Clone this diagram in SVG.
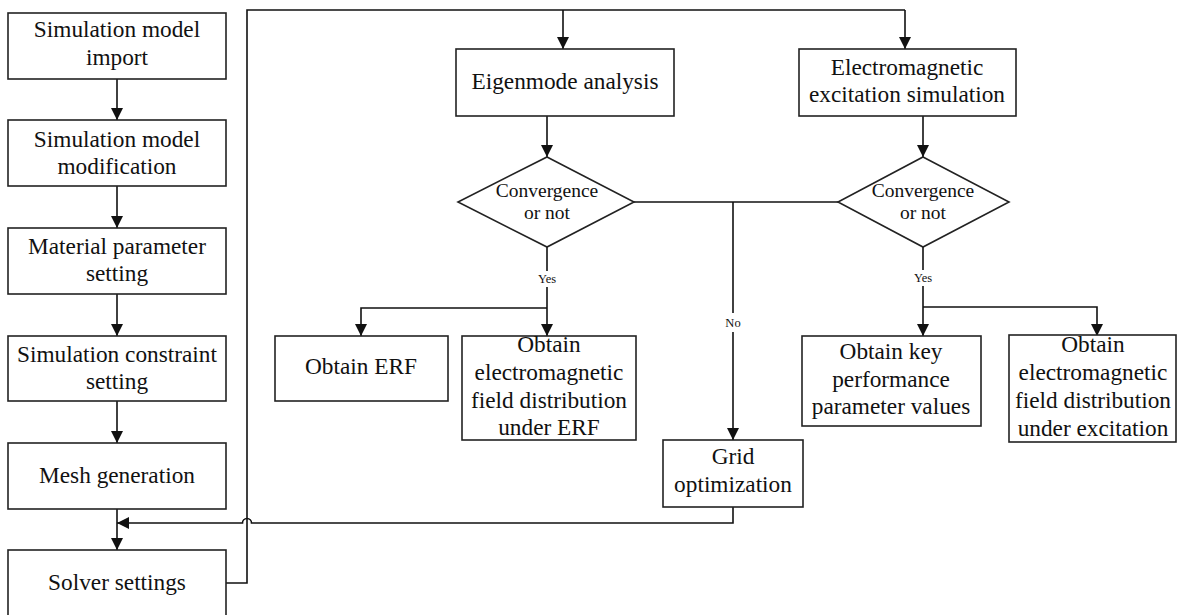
<svg xmlns="http://www.w3.org/2000/svg" width="1178" height="615" viewBox="0 0 1178 615">
<style>
.box{fill:#fff;stroke:#222;stroke-width:1.6}
.t{font-family:'Liberation Serif','Times New Roman',Tinos,'DejaVu Serif',serif;font-size:23.3px;fill:#111;text-anchor:middle}
.d{font-family:'Liberation Serif','Times New Roman',Tinos,'DejaVu Serif',serif;font-size:19.5px;fill:#111;text-anchor:middle}
.s{font-family:'Liberation Serif','Times New Roman',Tinos,'DejaVu Serif',serif;font-size:12.5px;fill:#111;text-anchor:middle}
.c{fill:none;stroke:#111;stroke-width:1.6}
.a{marker-end:url(#ah)}
</style>
<defs>
<marker id="ah" markerUnits="userSpaceOnUse" markerWidth="13" markerHeight="13" refX="12" refY="6" orient="auto">
<path d="M0,0 L12,6 L0,12 z" fill="#111"/>
</marker>
</defs>
<rect width="1178" height="615" fill="#fff"/>
<g id="connectors">
<path class="c a" d="M117,79 V120"/>
<path class="c a" d="M117,186 V228"/>
<path class="c a" d="M117,294 V336"/>
<path class="c a" d="M117,401 V443"/>
<path class="c a" d="M117,509 V550"/>
<path class="c" d="M226,583 H247 V10 H905"/>
<path class="c a" d="M905,10 V49"/>
<path class="c a" d="M563,10 V49"/>
<path class="c a" d="M547,116 V157"/>
<path class="c a" d="M923,116 V157"/>
<path class="c" d="M547,247 V271"/>
<path class="c a" d="M547,287 V336"/>
<path class="c a" d="M547,308 H361 V336"/>
<path class="c" d="M634,202 H838"/>
<path class="c" d="M733,202 V313"/>
<path class="c a" d="M733,332 V440"/>
<path class="c" d="M923,247 V270"/>
<path class="c a" d="M923,286 V336"/>
<path class="c a" d="M923,307 H1097 V336"/>
<path class="c a" d="M733,507 V523 H251.5 A4.5,4.5 0 0 0 242.5,523 H117"/>
<text class="s" x="547" y="283">Yes</text>
<text class="s" x="923" y="282">Yes</text>
<text class="s" x="733" y="327">No</text>
</g>
<g id="n1"><rect class="box" x="8" y="13" width="218" height="66"/><text class="t" x="117" y="37">Simulation model</text><text class="t" x="117" y="65">import</text></g>
<g id="n2"><rect class="box" x="8" y="120" width="218" height="66"/><text class="t" x="117" y="147">Simulation model</text><text class="t" x="117" y="174">modification</text></g>
<g id="n3"><rect class="box" x="8" y="228" width="218" height="66"/><text class="t" x="117" y="254">Material parameter</text><text class="t" x="117" y="281">setting</text></g>
<g id="n4"><rect class="box" x="8" y="336" width="218" height="65"/><text class="t" x="117" y="362">Simulation constraint</text><text class="t" x="117" y="389">setting</text></g>
<g id="n5"><rect class="box" x="8" y="443" width="218" height="66"/><text class="t" x="117" y="483">Mesh generation</text></g>
<g id="n6"><rect class="box" x="8" y="550" width="218" height="70"/><text class="t" x="117" y="590">Solver settings</text></g>
<g id="n7"><rect class="box" x="456" y="49" width="218" height="67"/><text class="t" x="565" y="89">Eigenmode analysis</text></g>
<g id="n8"><rect class="box" x="799" y="49" width="217" height="67"/><text class="t" x="907" y="75">Electromagnetic</text><text class="t" x="907" y="102">excitation simulation</text></g>
<g id="n9"><polygon class="box" points="547,157 634,202 547,247 458,202"/><text class="d" x="547" y="197">Convergence</text><text class="d" x="547" y="219">or not</text></g>
<g id="n10"><polygon class="box" points="923,157 1009,202 923,247 838,202"/><text class="d" x="923" y="197">Convergence</text><text class="d" x="923" y="219">or not</text></g>
<g id="n11"><rect class="box" x="275" y="336" width="173" height="65"/><text class="t" x="361" y="374">Obtain ERF</text></g>
<g id="n12"><rect class="box" x="462" y="336" width="174" height="104"/><text class="t" x="549" y="352">Obtain</text><text class="t" x="549" y="380">electromagnetic</text><text class="t" x="549" y="408">field distribution</text><text class="t" x="549" y="435">under ERF</text></g>
<g id="n13"><rect class="box" x="663" y="440" width="140" height="67"/><text class="t" x="733" y="464">Grid</text><text class="t" x="733" y="492">optimization</text></g>
<g id="n14"><rect class="box" x="802" y="336" width="179" height="90"/><text class="t" x="891" y="359">Obtain key</text><text class="t" x="891" y="387">performance</text><text class="t" x="891" y="414">parameter values</text></g>
<g id="n15"><rect class="box" x="1009" y="335" width="167" height="107"/><text class="t" x="1093" y="352">Obtain</text><text class="t" x="1093" y="380">electromagnetic</text><text class="t" x="1093" y="408">field distribution</text><text class="t" x="1093" y="436">under excitation</text></g>
</svg>
